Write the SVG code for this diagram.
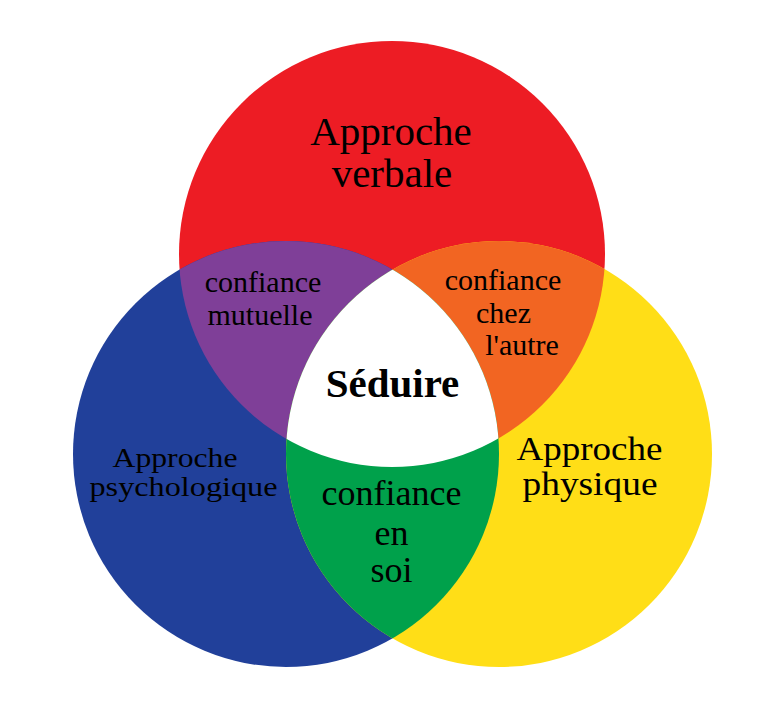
<svg xmlns="http://www.w3.org/2000/svg" width="783" height="721" viewBox="0 0 783 721">
<style>
text{font-family:"Liberation Serif","Times New Roman",serif;fill:#000;text-anchor:middle}
.b{font-weight:bold}
</style>
<defs>
<clipPath id="clipRed"><circle cx="392" cy="254" r="213"/></clipPath>
<clipPath id="clipBlue"><circle cx="286" cy="454" r="213"/></clipPath>
<clipPath id="clipYellow"><circle cx="499" cy="454" r="213"/></clipPath>
</defs>
<rect width="783" height="721" fill="#fff"/>
<g id="verbale">
<circle cx="392" cy="254" r="213" fill="#ED1C24"/>
<text x="391" y="145" font-size="41">Approche</text>
<text x="392" y="187" font-size="41">verbale</text>
</g>
<g id="psychologique">
<circle cx="286" cy="454" r="213" fill="#21409A"/>
</g>
<g id="physique">
<circle cx="499" cy="454" r="213" fill="#FFDE17"/>
</g>
<g id="mutuelle">
<circle cx="286" cy="454" r="213" fill="#7F3F98" clip-path="url(#clipRed)"/>
</g>
<g id="autre">
<circle cx="499" cy="454" r="213" fill="#F26522" clip-path="url(#clipRed)"/>
</g>
<g id="soi">
<circle cx="499" cy="454" r="213" fill="#00A14B" clip-path="url(#clipBlue)"/>
</g>
<g id="seduire">
<g clip-path="url(#clipRed)">
<circle cx="499" cy="454" r="213" fill="#FFFFFF" clip-path="url(#clipBlue)"/>
</g>
</g>
<g id="labels">
<text x="175" y="467" font-size="28" textLength="125" lengthAdjust="spacingAndGlyphs">Approche</text>
<text x="183.5" y="496" font-size="28" textLength="188" lengthAdjust="spacingAndGlyphs">psychologique</text>
<text x="589.5" y="460" font-size="34" textLength="146" lengthAdjust="spacingAndGlyphs">Approche</text>
<text x="590" y="495" font-size="34" textLength="135" lengthAdjust="spacingAndGlyphs">physique</text>
<text x="263" y="292" font-size="30">confiance</text>
<text x="260" y="325" font-size="30">mutuelle</text>
<text x="503" y="290" font-size="30">confiance</text>
<text x="503.5" y="323" font-size="30">chez</text>
<text x="522" y="355" font-size="30">l'autre</text>
<text x="391.5" y="505" font-size="36">confiance</text>
<text x="391.5" y="545" font-size="36">en</text>
<text x="391.5" y="582" font-size="36">soi</text>
<text class="b" x="392.5" y="397" font-size="41">Séduire</text>
</g>
<g id="connectors"/>
</svg>
